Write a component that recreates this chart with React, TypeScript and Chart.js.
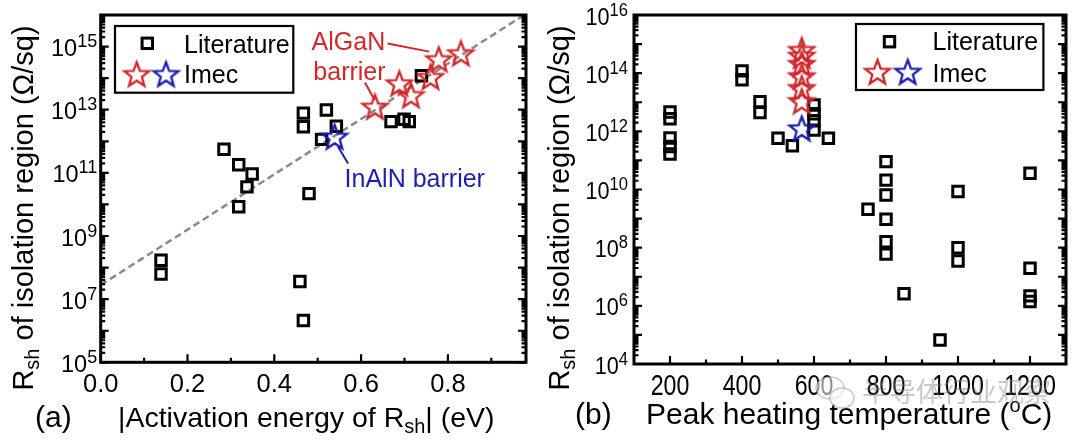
import React, { useEffect, useRef } from "react";
import { Chart, registerables } from "chart.js";

Chart.register(...registerables);

// ---------------- Panel (a): Rsh vs |activation energy| ----------------
const litAEnergy = [0.139, 0.139, 0.284, 0.318, 0.349, 0.337, 0.318, 0.467, 0.467, 0.52, 0.543, 0.509, 0.48, 0.459, 0.467, 0.669, 0.699, 0.711, 0.739];
const litARsh = [1.7e8, 6.3e7, 5.6e11, 1.8e11, 9.2e10, 3.6e10, 8.5e9, 7.8e12, 2.9e12, 9.8e12, 3.0e12, 1.15e12, 2.2e10, 3.6e7, 2.1e6, 4.2e12, 5.0e12, 4.2e12, 1.2e14];
const imecAlGaNEnergy = [0.632, 0.688, 0.715, 0.76, 0.779, 0.83];
const imecAlGaNRshA = [1.25e13, 6.9e13, 2.9e13, 1.1e14, 4.0e14, 6.2e14];
const imecInAlNEnergy = [0.539];
const imecInAlNRshA = [1.4e12];
const fitEnergy = [0, 0.97];
const fitRsh = [2.8e7, 8.9e15];
const xTicksA = [0, 0.2, 0.4, 0.6, 0.8];
const xTickLabelsA = ["0.0", "0.2", "0.4", "0.6", "0.8"];
const xMinorA = [0.1, 0.3, 0.5, 0.7, 0.9];
const yLabelExpA = [5, 7, 9, 11, 13, 15];

// ---------------- Panel (b): Rsh vs peak heating temperature ----------------
const litBTemp = [200, 200, 200, 200, 200, 400, 400, 450, 450, 500, 540, 600, 600, 600, 600, 640, 750, 800, 800, 800, 800, 800, 800, 850, 950, 1000, 1000, 1000, 1200, 1200, 1200, 1200];
const litBRsh = [4.6e12, 2.7e12, 5.9e11, 3.0e11, 1.66e11, 1.2e14, 5.9e13, 1.05e13, 4.4e12, 5.8e11, 3.2e11, 8.1e12, 4.0e12, 2.3e12, 1.1e12, 5.8e11, 2.1e9, 9.1e10, 2.1e10, 6.5e9, 9.5e8, 1.6e8, 6.0e7, 2.6e6, 6.7e4, 8.5e9, 1.0e8, 3.5e7, 3.6e10, 1.95e7, 2.2e6, 1.4e6];
const imecAlGaNTemp = [566, 566, 566, 566, 566, 566];
const imecAlGaNRshB = [6.3e14, 4.0e14, 2.1e14, 7.9e13, 3.1e13, 1.1e13];
const imecInAlNTemp = [566];
const imecInAlNRshB = [1.27e12];
const xTicksB = [200, 400, 600, 800, 1000, 1200];
const xTickLabelsB = ["200", "400", "600", "800", "1000", "1200"];
const xMinorB = [300, 500, 700, 900, 1100];
const yLabelExpB = [4, 6, 8, 10, 12, 14, 16];

const FONT = "'Liberation Sans', Arial, Helvetica, sans-serif";
const CJK = "'Noto Sans CJK SC', sans-serif";
const RED = "#d0282c";
const BLUE = "#1e1eaa";

type Run = { t: string; size: number; dy?: number };

function runsWidth(ctx: CanvasRenderingContext2D, runs: Run[], sx: number) {
  let w = 0;
  for (const r of runs) {
    ctx.font = `${r.size}px ${FONT}`;
    w += ctx.measureText(r.t).width * sx;
  }
  return w;
}

function drawRuns(
  ctx: CanvasRenderingContext2D,
  runs: Run[],
  x: number,
  y: number,
  align: "left" | "center" | "right",
  color = "#000",
  sx = 1
) {
  const w = runsWidth(ctx, runs, sx);
  let cx = align === "left" ? x : align === "center" ? x - w / 2 : x - w;
  ctx.fillStyle = color;
  ctx.textAlign = "left";
  ctx.textBaseline = "alphabetic";
  for (const r of runs) {
    ctx.font = `${r.size}px ${FONT}`;
    const rw = ctx.measureText(r.t).width * sx;
    ctx.save();
    ctx.translate(cx, y + (r.dy || 0));
    ctx.scale(sx, 1);
    ctx.fillText(r.t, 0, 0);
    ctx.restore();
    cx += rw;
  }
}

function makeStar(stroke: string, R = 13, lw = 2.3): HTMLCanvasElement {
  const size = Math.ceil(2 * R + lw + 6);
  const c = document.createElement("canvas");
  c.width = size;
  c.height = size;
  const ctx = c.getContext("2d")!;
  ctx.translate(size / 2, size / 2 + 0.095 * R);
  ctx.beginPath();
  for (let i = 0; i < 10; i++) {
    const r = i % 2 === 0 ? R : R * 0.42;
    const a = -Math.PI / 2 + (i * Math.PI) / 5;
    if (i === 0) ctx.moveTo(r * Math.cos(a), r * Math.sin(a));
    else ctx.lineTo(r * Math.cos(a), r * Math.sin(a));
  }
  ctx.closePath();
  ctx.strokeStyle = stroke;
  ctx.lineWidth = lw;
  ctx.lineJoin = "miter";
  ctx.stroke();
  return c;
}

type PanelDecor = {
  xMajor: number[];
  xMinor: number[];
  xLabels: string[];
  xLabelSize: number;
  xLabelSx: number;
  xLabelBaseline: number;
  yLabelExp: number[];
  yLabelSx: number;
  yLabelGap: number;
  yExpMin: number;
  yExpMax: number;
  yTitleX: number;
  yTitleY: number;
  xTitle: (ctx: CanvasRenderingContext2D) => void;
  legend: { box: number[]; sq: number[]; litText: number[]; red: number[]; blue: number[]; imecText: number[] };
  extra?: (chart: Chart, ctx: CanvasRenderingContext2D) => void;
};

function decorPlugin(d: PanelDecor, redStar: HTMLCanvasElement, blueStar: HTMLCanvasElement) {
  return {
    id: "decor",
    afterDraw(chart: Chart) {
      const ctx = chart.ctx;
      const ca = chart.chartArea;
      const xs = chart.scales.x;
      const ys = chart.scales.y;
      ctx.save();
      // frame
      ctx.strokeStyle = "#000";
      ctx.lineWidth = 3;
      ctx.strokeRect(ca.left, ca.top, ca.right - ca.left, ca.bottom - ca.top);
      // ticks
      ctx.lineWidth = 2.2;
      ctx.beginPath();
      for (const v of d.xMajor) {
        const px = xs.getPixelForValue(v);
        ctx.moveTo(px, ca.bottom);
        ctx.lineTo(px, ca.bottom - 8);
      }
      for (const v of d.xMinor) {
        const px = xs.getPixelForValue(v);
        ctx.moveTo(px, ca.bottom);
        ctx.lineTo(px, ca.bottom - 4.5);
      }
      const yMax = Math.pow(10, d.yExpMax);
      for (let e = d.yExpMin; e <= d.yExpMax; e++) {
        const py = ys.getPixelForValue(Math.pow(10, e));
        ctx.moveTo(ca.left, py);
        ctx.lineTo(ca.left + 8, py);
        ctx.moveTo(ca.right, py);
        ctx.lineTo(ca.right - 8, py);
        for (let m = 2; m <= 9; m++) {
          const v = m * Math.pow(10, e);
          if (v >= yMax) break;
          const pm = ys.getPixelForValue(v);
          ctx.moveTo(ca.left, pm);
          ctx.lineTo(ca.left + 4.5, pm);
          ctx.moveTo(ca.right, pm);
          ctx.lineTo(ca.right - 4.5, pm);
        }
      }
      ctx.stroke();
      // x tick labels
      d.xMajor.forEach((v, i) => {
        const px = xs.getPixelForValue(v);
        drawRuns(ctx, [{ t: d.xLabels[i], size: d.xLabelSize }], px, d.xLabelBaseline, "center", "#000", d.xLabelSx);
      });
      // y tick labels with superscript exponents
      for (const e of d.yLabelExp) {
        const py = ys.getPixelForValue(Math.pow(10, e));
        drawRuns(
          ctx,
          [
            { t: "10", size: 23.5, dy: 9.5 },
            { t: String(e), size: 18, dy: 0.5 },
          ],
          ca.left - d.yLabelGap,
          py,
          "right",
          "#000",
          d.yLabelSx
        );
      }
      // y title
      ctx.save();
      ctx.translate(d.yTitleX, d.yTitleY);
      ctx.rotate(-Math.PI / 2);
      drawRuns(
        ctx,
        [
          { t: "R", size: 29 },
          { t: "sh", size: 20, dy: 6 },
          { t: " of isolation region (\u03A9/sq)", size: 29 },
        ],
        0,
        0,
        "center"
      );
      ctx.restore();
      // x title
      d.xTitle(ctx);
      // legend
      const L = d.legend;
      ctx.strokeStyle = "#000";
      ctx.lineWidth = 2.2;
      ctx.strokeRect(L.box[0], L.box[1], L.box[2] - L.box[0], L.box[3] - L.box[1]);
      ctx.lineWidth = 3;
      ctx.strokeRect(L.sq[0] - 5.2, L.sq[1] - 5.2, 10.4, 10.4);
      drawRuns(ctx, [{ t: "Literature", size: 25 }], L.litText[0], L.litText[1], "left");
      ctx.drawImage(redStar, L.red[0] - redStar.width / 2, L.red[1] - redStar.height / 2);
      ctx.drawImage(blueStar, L.blue[0] - blueStar.width / 2, L.blue[1] - blueStar.height / 2);
      drawRuns(ctx, [{ t: "Imec", size: 25 }], L.imecText[0], L.imecText[1], "left");
      if (d.extra) d.extra(chart, ctx);
      ctx.restore();
    },
  };
}

function pts(xs: number[], ys: number[]) {
  return xs.map((x, i) => ({ x, y: ys[i] }));
}

function baseOptions(xmin: number, xmax: number, ymin: number, ymax: number, pad: { left: number; right: number; top: number; bottom: number }) {
  return {
    responsive: false,
    maintainAspectRatio: false,
    animation: false as const,
    events: [],
    layout: { padding: pad },
    plugins: { legend: { display: false }, tooltip: { enabled: false } },
    scales: {
      x: { type: "linear" as const, min: xmin, max: xmax, display: false },
      y: { type: "logarithmic" as const, min: ymin, max: ymax, display: false },
    },
  };
}

function squareDs(data: { x: number; y: number }[], order: number) {
  return {
    data,
    order,
    pointStyle: "rect" as const,
    pointRadius: 7.4,
    borderWidth: 3,
    borderColor: "#000",
    backgroundColor: "rgba(0,0,0,0)",
    showLine: false,
  };
}

function starDs(data: { x: number; y: number }[], img: HTMLCanvasElement, order: number) {
  return {
    data,
    order,
    pointStyle: img,
    pointRadius: 13,
    showLine: false,
  };
}

export default function App() {
  const refA = useRef<HTMLCanvasElement>(null);
  const refB = useRef<HTMLCanvasElement>(null);

  useEffect(() => {
    document.body.style.margin = "0";
    const redStar = makeStar(RED);
    const blueStar = makeStar(BLUE);

    const decorA: PanelDecor = {
      xMajor: xTicksA,
      xMinor: xMinorA,
      xLabels: xTickLabelsA,
      xLabelSize: 25.5,
      xLabelSx: 1,
      xLabelBaseline: 392,
      yLabelExp: yLabelExpA,
      yLabelSx: 1,
      yLabelGap: 3.5,
      yExpMin: 5,
      yExpMax: 16,
      yTitleX: 33,
      yTitleY: 208,
      xTitle: (ctx) => {
        drawRuns(ctx, [{ t: "(a)", size: 30 }], 35, 427, "left");
        drawRuns(
          ctx,
          [
            { t: "|Activation energy of R", size: 28.5 },
            { t: "sh", size: 20, dy: 6 },
            { t: "| (eV)", size: 28.5 },
          ],
          118,
          427,
          "left"
        );
      },
      legend: {
        box: [115, 26, 293.3, 92.7],
        sq: [147.3, 43.3],
        litText: [184, 52.7],
        red: [136.7, 74],
        blue: [166, 74],
        imecText: [184, 82.7],
      },
      extra: (chart, ctx) => {
        const xs = chart.scales.x;
        const ys = chart.scales.y;
        const P = (x: number, lg: number) => [xs.getPixelForValue(x), ys.getPixelForValue(Math.pow(10, lg))];
        const a1 = P(0.486, 14.89);
        const a2 = P(0.49, 13.94);
        drawRuns(ctx, [{ t: "AlGaN", size: 25 }], a1[0], a1[1], "left", RED);
        drawRuns(ctx, [{ t: "barrier", size: 25 }], a2[0], a2[1], "left", RED);
        ctx.lineWidth = 2;
        ctx.strokeStyle = RED;
        ctx.beginPath();
        let p = P(0.661, 15.1);
        ctx.moveTo(p[0], p[1]);
        p = P(0.757, 14.84);
        ctx.lineTo(p[0], p[1]);
        p = P(0.609, 13.86);
        ctx.moveTo(p[0], p[1]);
        p = P(0.631, 13.31);
        ctx.lineTo(p[0], p[1]);
        ctx.stroke();
        const b1 = P(0.562, 10.56);
        drawRuns(ctx, [{ t: "InAlN barrier", size: 25 }], b1[0], b1[1], "left", BLUE);
        ctx.strokeStyle = BLUE;
        ctx.beginPath();
        p = P(0.57, 11.3);
        ctx.moveTo(p[0], p[1]);
        p = P(0.547, 11.83);
        ctx.lineTo(p[0], p[1]);
        ctx.stroke();
      },
    };

    const decorB: PanelDecor = {
      xMajor: xTicksB,
      xMinor: xMinorB,
      xLabels: xTickLabelsB,
      xLabelSize: 29,
      xLabelSx: 0.8,
      xLabelBaseline: 395,
      yLabelExp: yLabelExpB,
      yLabelSx: 0.92,
      yLabelGap: 6,
      yExpMin: 4,
      yExpMax: 16,
      yTitleX: 29,
      yTitleY: 208,
      xTitle: (ctx) => {
        drawRuns(ctx, [{ t: "(b)", size: 30 }], 35, 424, "left");
        drawRuns(
          ctx,
          [
            { t: "Peak heating temperature (", size: 30 },
            { t: "o", size: 20, dy: -12 },
            { t: "C)", size: 30 },
          ],
          106,
          424,
          "left"
        );
      },
      legend: {
        box: [316, 24, 503.4, 90],
        sq: [349.5, 41.7],
        litText: [392.5, 50],
        red: [337.5, 71.7],
        blue: [367.7, 71.7],
        imecText: [392.5, 81.5],
      },
      extra: (_chart, ctx) => {
        // watermark
        ctx.save();
        ctx.globalAlpha = 0.55;
        ctx.fillStyle = "#ffffff";
        ctx.strokeStyle = "#9a9a9a";
        ctx.lineWidth = 1.5;
        ctx.beginPath();
        ctx.ellipse(290, 388, 14, 11, 0, 0, Math.PI * 2);
        ctx.fill();
        ctx.stroke();
        ctx.beginPath();
        ctx.ellipse(302, 398, 12, 10, 0, 0, Math.PI * 2);
        ctx.fill();
        ctx.stroke();
        ctx.fillStyle = "rgba(130,130,130,0.8)";
        ctx.font = `27px ${CJK}`;
        ctx.textAlign = "left";
        ctx.textBaseline = "alphabetic";
        ctx.fillText("\u534A\u5BFC\u4F53\u884C\u4E1A\u89C2\u5BDF", 322, 402);
        ctx.restore();
      },
    };

    const chartA = new Chart(refA.current!, {
      type: "scatter",
      data: {
        datasets: [
          starDs(pts(imecInAlNEnergy, imecInAlNRshA), blueStar, 1) as any,
          starDs(pts(imecAlGaNEnergy, imecAlGaNRshA), redStar, 2) as any,
          squareDs(pts(litAEnergy, litARsh), 3) as any,
          {
            data: pts(fitEnergy, fitRsh),
            order: 4,
            showLine: true,
            pointRadius: 0,
            borderColor: "#8a8a8a",
            borderWidth: 2.5,
            borderDash: [7, 4],
          } as any,
        ],
      },
      options: baseOptions(0, 0.98, 1e5, 1e16, { left: 100.7, right: 10.7, top: 15, bottom: 80.7 }) as any,
      plugins: [decorPlugin(decorA, redStar, blueStar) as any],
    });

    const chartB = new Chart(refB.current!, {
      type: "scatter",
      data: {
        datasets: [
          starDs(pts(imecInAlNTemp, imecInAlNRshB), blueStar, 1) as any,
          starDs(pts(imecAlGaNTemp, imecAlGaNRshB), redStar, 2) as any,
          squareDs(pts(litBTemp, litBRsh), 3) as any,
        ],
      },
      options: baseOptions(100, 1300, 1e4, 1e16, { left: 94, right: 13.3, top: 15, bottom: 79 }) as any,
      plugins: [decorPlugin(decorB, redStar, blueStar) as any],
    });

    return () => {
      chartA.destroy();
      chartB.destroy();
    };
  }, []);

  return (
    <div style={{ position: "relative", width: 1080, height: 443, background: "#fff", overflow: "hidden" }}>
      <canvas ref={refA} width={540} height={443} style={{ position: "absolute", left: 0, top: 0, width: 540, height: 443 }} />
      <canvas ref={refB} width={540} height={443} style={{ position: "absolute", left: 540, top: 0, width: 540, height: 443 }} />
    </div>
  );
}
